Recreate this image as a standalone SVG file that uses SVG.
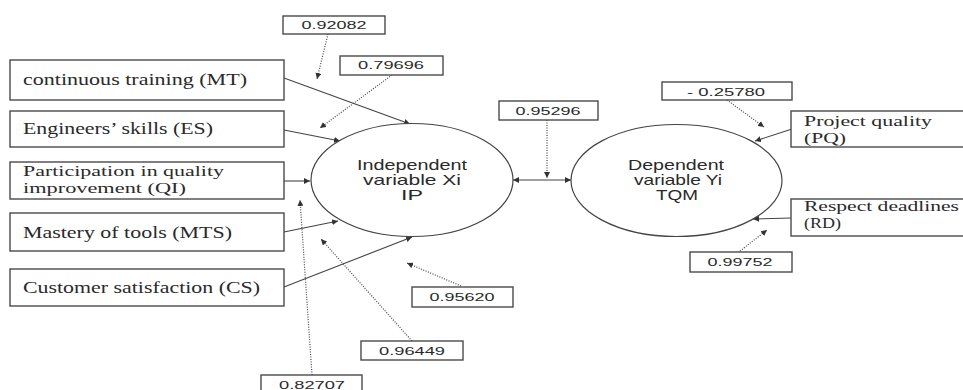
<svg xmlns="http://www.w3.org/2000/svg" width="963" height="390" viewBox="0 0 963 390">
<defs>
<marker id="ah" markerUnits="userSpaceOnUse" markerWidth="7" markerHeight="6" refX="6" refY="3" orient="auto">
<path d="M0,0 L6,3 L0,6 z" fill="#333"/>
</marker>
<marker id="ahs" markerUnits="userSpaceOnUse" markerWidth="7" markerHeight="6" refX="0" refY="3" orient="auto">
<path d="M6,0 L0,3 L6,6 z" fill="#333"/>
</marker>
<style>
.box{fill:#fff;stroke:#4a4a4a;stroke-width:1.4}
.ell{fill:#fff;stroke:#444;stroke-width:1.2}
.serif{font-family:"Liberation Serif","Times New Roman",serif;font-size:17px;fill:#2a2a2a}
.two{font-size:15px}
.sans{font-family:"Liberation Sans",Arial,sans-serif;font-size:14.5px;fill:#2a2a2a;text-anchor:middle}
.num{font-family:"Liberation Sans",Arial,sans-serif;font-size:11.5px;fill:#2a2a2a;text-anchor:middle}
.solid{stroke:#444;stroke-width:1.1;fill:none;marker-end:url(#ah)}
.dot{stroke:#444;stroke-width:1.2;stroke-dasharray:1 1.5;fill:none;marker-end:url(#ah)}
</style>
</defs>
<rect width="963" height="390" fill="#fff"/>

<g id="connectors">
<line class="solid" x1="284" y1="78" x2="410" y2="124"/>
<line class="solid" x1="284" y1="130" x2="340" y2="141"/>
<line class="solid" x1="284" y1="181" x2="310" y2="181"/>
<line class="solid" x1="284" y1="232" x2="338" y2="221"/>
<line class="solid" x1="284" y1="287" x2="412" y2="237"/>
<line class="solid" x1="792" y1="129" x2="755" y2="141"/>
<line class="solid" x1="792" y1="218" x2="753" y2="219"/>
<line class="solid" x1="513" y1="180" x2="571" y2="180" marker-start="url(#ahs)"/>
<line class="dot" x1="328" y1="34" x2="317" y2="79"/>
<line class="dot" x1="392" y1="75" x2="320" y2="128"/>
<line class="dot" x1="312" y1="375" x2="300" y2="200"/>
<line class="dot" x1="412" y1="341" x2="321" y2="239"/>
<line class="dot" x1="461" y1="286" x2="407" y2="263"/>
<line class="dot" x1="547" y1="120" x2="547" y2="178"/>
<line class="dot" x1="727" y1="100" x2="764" y2="127"/>
<line class="dot" x1="740" y1="251" x2="767" y2="230"/>
</g>

<g id="IP">
<ellipse class="ell" cx="412" cy="180" rx="101" ry="56.5"/>
<text class="sans" x="412" y="170" textLength="110" lengthAdjust="spacingAndGlyphs">Independent</text>
<text class="sans" x="412" y="185" textLength="98" lengthAdjust="spacingAndGlyphs">variable Xi</text>
<text class="sans" x="412" y="200" textLength="22" lengthAdjust="spacingAndGlyphs">IP</text>
</g>
<g id="TQM">
<ellipse class="ell" cx="676.5" cy="180.5" rx="105.5" ry="56"/>
<text class="sans" x="676" y="170" textLength="96" lengthAdjust="spacingAndGlyphs">Dependent</text>
<text class="sans" x="678" y="185" textLength="88" lengthAdjust="spacingAndGlyphs">variable Yi</text>
<text class="sans" x="677" y="200" textLength="42" lengthAdjust="spacingAndGlyphs">TQM</text>
</g>

<g id="MT">
<rect class="box" x="10" y="60" width="274" height="40"/>
<text class="serif" x="23" y="85" textLength="224" lengthAdjust="spacingAndGlyphs">continuous training (MT)</text>
</g>
<g id="ES">
<rect class="box" x="10" y="111" width="274" height="36"/>
<text class="serif" x="23" y="134" textLength="190" lengthAdjust="spacingAndGlyphs">Engineers’ skills (ES)</text>
</g>
<g id="QI">
<rect class="box" x="10" y="162" width="274" height="37"/>
<text class="serif two" x="23" y="176" textLength="201" lengthAdjust="spacingAndGlyphs">Participation in quality</text>
<text class="serif two" x="23" y="193" textLength="163" lengthAdjust="spacingAndGlyphs">improvement (QI)</text>
</g>
<g id="MTS">
<rect class="box" x="10" y="213" width="274" height="38"/>
<text class="serif" x="23" y="238" textLength="209" lengthAdjust="spacingAndGlyphs">Mastery of tools (MTS)</text>
</g>
<g id="CS">
<rect class="box" x="10" y="269" width="274" height="37"/>
<text class="serif" x="23" y="293" textLength="237" lengthAdjust="spacingAndGlyphs">Customer satisfaction (CS)</text>
</g>
<g id="PQ">
<rect class="box" x="791" y="111" width="180" height="36"/>
<text class="serif two" x="804" y="126" textLength="128" lengthAdjust="spacingAndGlyphs">Project quality</text>
<text class="serif two" x="804" y="143" textLength="42" lengthAdjust="spacingAndGlyphs">(PQ)</text>
</g>
<g id="RD">
<rect class="box" x="791" y="199" width="180" height="37"/>
<text class="serif two" x="804" y="211" textLength="155" lengthAdjust="spacingAndGlyphs">Respect deadlines</text>
<text class="serif two" x="804" y="228" textLength="37" lengthAdjust="spacingAndGlyphs">(RD)</text>
</g>

<g id="w1">
<rect class="box" x="283" y="16" width="102" height="18"/>
<text class="num" x="334" y="29" textLength="65" lengthAdjust="spacingAndGlyphs">0.92082</text>
</g>
<g id="w2">
<rect class="box" x="340" y="56" width="103" height="19"/>
<text class="num" x="391" y="69" textLength="66" lengthAdjust="spacingAndGlyphs">0.79696</text>
</g>
<g id="w3">
<rect class="box" x="499" y="101" width="99" height="19"/>
<text class="num" x="548" y="115" textLength="65" lengthAdjust="spacingAndGlyphs">0.95296</text>
</g>
<g id="w4">
<rect class="box" x="662" y="82" width="130" height="18"/>
<text class="num" x="726" y="96" textLength="78" lengthAdjust="spacingAndGlyphs">- 0.25780</text>
</g>
<g id="w5">
<rect class="box" x="690" y="252" width="102" height="20"/>
<text class="num" x="740" y="266" textLength="65" lengthAdjust="spacingAndGlyphs">0.99752</text>
</g>
<g id="w6">
<rect class="box" x="412" y="287" width="101" height="20"/>
<text class="num" x="462" y="301" textLength="65" lengthAdjust="spacingAndGlyphs">0.95620</text>
</g>
<g id="w7">
<rect class="box" x="361" y="341" width="102" height="19"/>
<text class="num" x="412" y="355" textLength="66" lengthAdjust="spacingAndGlyphs">0.96449</text>
</g>
<g id="w8">
<rect class="box" x="261" y="375" width="101" height="20"/>
<text class="num" x="312" y="389" textLength="66" lengthAdjust="spacingAndGlyphs">0.82707</text>
</g>
</svg>
